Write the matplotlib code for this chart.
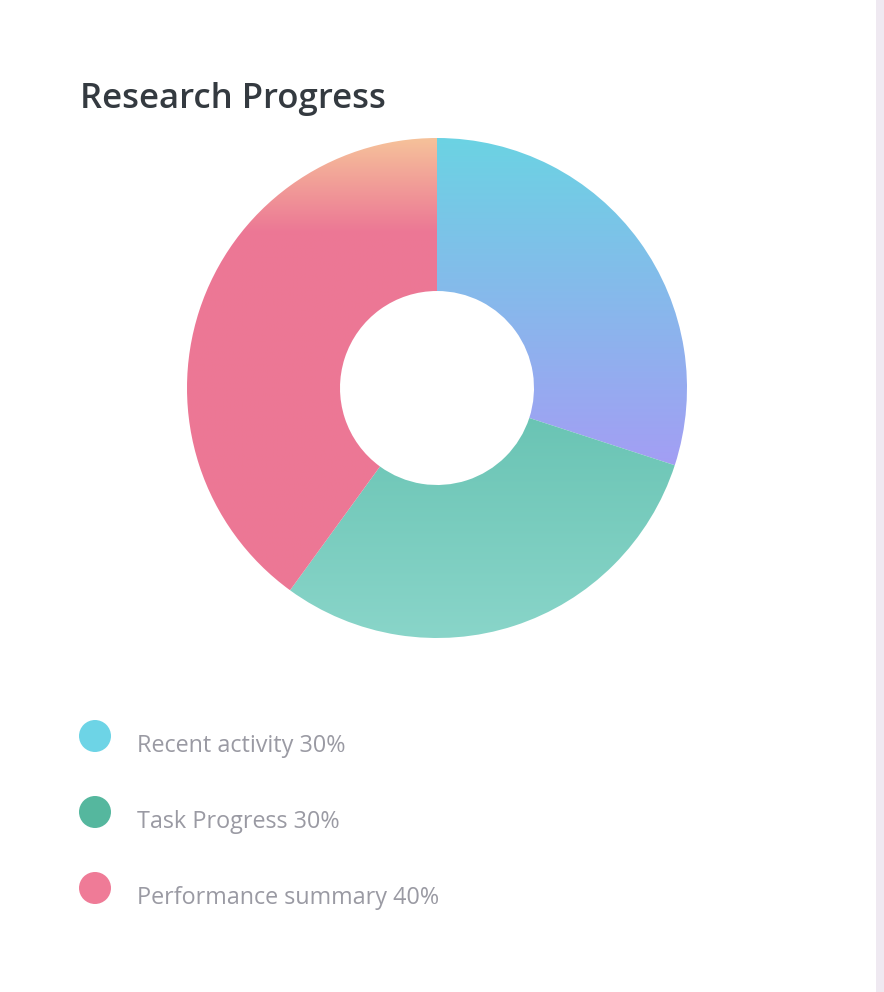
import numpy as np
import matplotlib
matplotlib.use("Agg")
import matplotlib.pyplot as plt
from matplotlib.patches import Wedge, Circle, Rectangle
from matplotlib.colors import LinearSegmentedColormap

plt.rcParams['font.family'] = ['Open Sans', 'DejaVu Sans']

# Datos del grafico
labels = ['Recent activity', 'Task Progress', 'Performance summary']
values = [30, 30, 40]
legend_colors = ['#6dd4e6', '#55b79e', '#ef7b97']
# degradados verticales de cada porcion (arriba -> abajo)
gradients = [
    [(0.0, '#6bd3e3'), (1.0, '#a39ef4')],
    [(0.0, '#6ac4b4'), (1.0, '#89d5c9')],
    [(0.0, '#f6c29a'), (0.21, '#ec7795'), (1.0, '#ed7895')],
]

W, H = 884, 992
fig = plt.figure(figsize=(W / 100, H / 100), dpi=100)
ax = fig.add_axes([0, 0, 1, 1])
ax.set_xlim(0, W)
ax.set_ylim(0, H)
ax.axis('off')

# franja gris a la derecha
ax.add_patch(Rectangle((876, 0), 8, H, color='#efe9f1', lw=0))

# titulo
ax.text(80, H - 108, 'Research Progress', fontsize=25, color='#343a40',
        fontweight='semibold', va='baseline', ha='left')

# donut con degradados
cx, cy = 437, H - 388
r_out, r_in = 250, 97
total = sum(values)
start = 0.0
for val, grad in zip(values, gradients):
    end = start + val / total * 360
    w = Wedge((cx, cy), r_out, 90 - end, 90 - start, width=r_out - r_in,
              facecolor='none', edgecolor='none')
    ax.add_patch(w)
    bb = w.get_path().get_extents()
    cmap = LinearSegmentedColormap.from_list('g', grad)
    img = np.linspace(0, 1, 256).reshape(-1, 1)
    im = ax.imshow(img, cmap=cmap, aspect='auto', origin='upper',
                   extent=[bb.x0, bb.x1, bb.y0, bb.y1], interpolation='bilinear')
    im.set_clip_path(w)
    start = end

# leyenda
for i, (lab, val, col) in enumerate(zip(labels, values, legend_colors)):
    y_c = H - (736 + 76 * i)
    ax.add_patch(Circle((95, y_c), 16, color=col, lw=0))
    ax.text(137, H - (752 + 76 * i), f'{lab} {val}%', fontsize=16.8,
            color='#9a9aa3', va='baseline', ha='left')

ax.set_xlim(0, W)
ax.set_ylim(0, H)
fig.savefig('out.png', dpi=100)
